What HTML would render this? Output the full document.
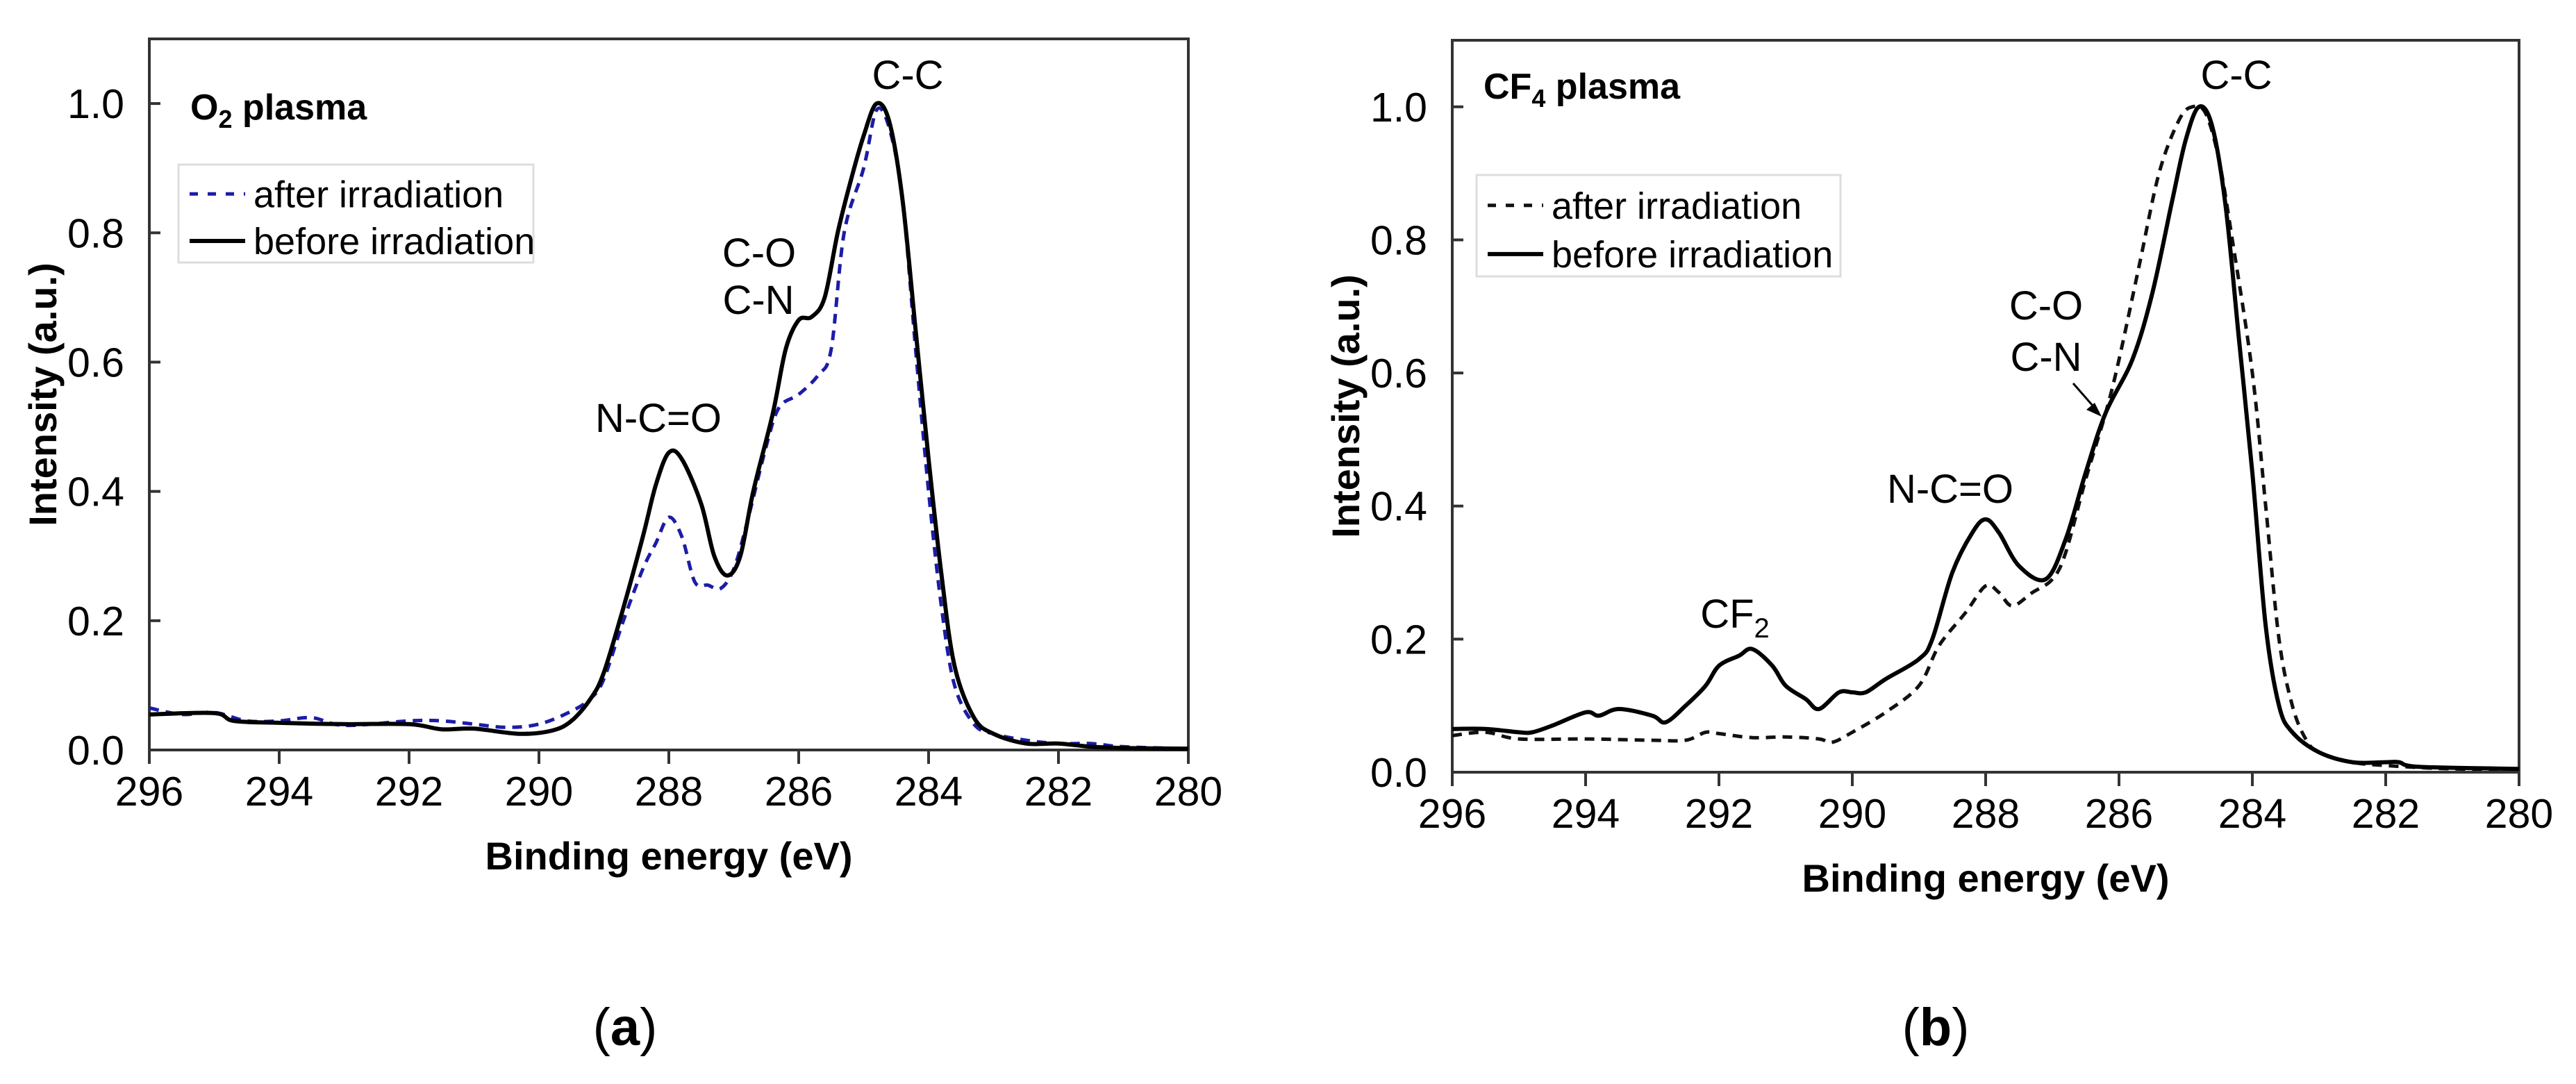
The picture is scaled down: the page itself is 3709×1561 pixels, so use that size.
<!DOCTYPE html>
<html><head><meta charset="utf-8"><style>
html,body{margin:0;padding:0;background:#fff;}
svg text{font-family:"Liberation Sans",Arial,sans-serif;}
</style></head><body>
<svg id="fig" width="3709" height="1556" viewBox="0 0 3709 1556" xmlns="http://www.w3.org/2000/svg">
<rect width="3709" height="1556" fill="#fff"/>
</svg>
<script>
const xTicks = [296,294,292,290,288,286,284,282,280];
const yTicks = [0.0,0.2,0.4,0.6,0.8,1.0];
const aBeforeE = [296,295,294.7,294,293,292,291.5,291,290.3,289.8,289.5,289.2,289,288.7,288.4,288.2,288,287.8,287.5,287.3,287.1,286.9,286.7,286.4,286.2,286,285.8,285.6,285.4,285.2,285,284.8,284.6,284.4,284.2,284,283.8,283.6,283.3,283,282.5,282,281.5,281,280];
const aBeforeV = [0.055,0.057,0.045,0.042,0.040,0.040,0.032,0.033,0.025,0.03,0.045,0.08,0.12,0.22,0.33,0.41,0.46,0.45,0.38,0.30,0.27,0.30,0.40,0.52,0.62,0.665,0.67,0.70,0.80,0.88,0.95,1.0,0.97,0.85,0.65,0.45,0.27,0.13,0.05,0.025,0.01,0.01,0.005,0.003,0.002];
const aAfterE = [296,295.5,295,294.5,294,293.5,293,292,291.5,291,290.5,290,289.5,289.2,289,288.7,288.4,288.2,288,287.8,287.6,287.4,287.2,287,286.8,286.5,286.3,286,285.7,285.5,285.3,285,284.8,284.6,284.4,284.2,284,283.8,283.6,283.3,283,282.5,282,281.5,281,280];
const aAfterV = [0.065,0.055,0.058,0.045,0.045,0.05,0.038,0.045,0.045,0.04,0.035,0.04,0.06,0.08,0.11,0.2,0.28,0.32,0.36,0.33,0.26,0.255,0.25,0.28,0.35,0.47,0.53,0.55,0.58,0.62,0.8,0.9,0.99,0.96,0.85,0.62,0.40,0.22,0.1,0.04,0.025,0.015,0.01,0.01,0.005,0.002];
const bBeforeE = [296,295.5,295,294.8,294.5,294,293.8,293.5,293,292.8,292.5,292.2,292,291.7,291.5,291.2,291,290.7,290.5,290.2,290,289.8,289.5,289,288.8,288.5,288.2,288,287.8,287.5,287.1,286.8,286.5,286.2,285.8,285.5,285.2,285,284.8,284.6,284.4,284.2,284,283.8,283.6,283.4,283,282.5,282,281.8,281.5,280];
const bBeforeV = [0.065,0.065,0.06,0.06,0.07,0.09,0.085,0.095,0.085,0.075,0.1,0.13,0.16,0.175,0.185,0.16,0.13,0.11,0.095,0.12,0.12,0.12,0.14,0.17,0.2,0.3,0.36,0.38,0.36,0.31,0.29,0.35,0.45,0.54,0.62,0.72,0.86,0.95,1.0,0.97,0.85,0.65,0.45,0.22,0.1,0.06,0.03,0.015,0.015,0.015,0.008,0.005];
const bAfterE = [296,295.5,295,294,293,292.5,292.2,292,291.5,291,290.5,290.3,290,289.5,289,288.7,288.3,288,287.8,287.6,287.3,287,286.8,286.5,286.2,286,285.7,285.4,285.1,284.9,284.7,284.5,284.3,284,283.8,283.6,283.4,283.2,283,282.5,282,281,280];
const bAfterV = [0.055,0.06,0.05,0.05,0.048,0.048,0.06,0.058,0.052,0.053,0.05,0.045,0.06,0.09,0.13,0.19,0.24,0.28,0.27,0.25,0.27,0.29,0.33,0.44,0.54,0.62,0.76,0.9,0.98,1.0,0.99,0.92,0.8,0.6,0.4,0.2,0.1,0.05,0.03,0.015,0.01,0.005,0.005];

const NS="http://www.w3.org/2000/svg";
const svg=document.getElementById('fig');
function mk(tag,attrs,parent){const e=document.createElementNS(NS,tag);for(const k in attrs)e.setAttribute(k,attrs[k]);(parent||svg).appendChild(e);return e;}
function txt(s,x,y,size,weight,anchor,parent){const t=mk('text',{x:x,y:y,'font-size':size,'font-weight':weight||'normal','text-anchor':anchor||'middle',fill:'#000'},parent);t.textContent=s;return t;}
function smoothPath(P){
  let d='M'+P[0][0].toFixed(1)+' '+P[0][1].toFixed(1);
  for(let i=0;i<P.length-1;i++){
    const p0=P[i-1]||P[i],p1=P[i],p2=P[i+1],p3=P[i+2]||P[i+1];
    const c1=[p1[0]+(p2[0]-p0[0])/6,p1[1]+(p2[1]-p0[1])/6];
    const c2=[p2[0]-(p3[0]-p1[0])/6,p2[1]-(p3[1]-p1[1])/6];
    d+=' C'+c1[0].toFixed(1)+' '+c1[1].toFixed(1)+' '+c2[0].toFixed(1)+' '+c2[1].toFixed(1)+' '+p2[0].toFixed(1)+' '+p2[1].toFixed(1);
  }
  return d;
}

function panel(p){
  const g=mk('g',{});
  
  
  const X=e=>p.L+(296-e)/16*(p.R-p.L);
  const Y=v=>p.B-v/1.1*(p.B-p.T);
  const fr=mk('rect',{x:p.L,y:p.T,width:p.R-p.L,height:p.B-p.T,fill:'none',stroke:'#333','stroke-width':4},g);
  
  
  xTicks.forEach(e=>{
    mk('line',{x1:X(e),x2:X(e),y1:p.B,y2:p.B+20,stroke:'#333','stroke-width':4},g);
    const t=txt(String(e),X(e),p.B+80,59,'normal','middle',g);
    
    
  });
  yTicks.forEach(v=>{
    mk('line',{x1:p.L,x2:p.L+16,y1:Y(v),y2:Y(v),stroke:'#333','stroke-width':4},g);
    const t=txt(v.toFixed(1),p.L-36,Y(v)+21,59,'normal','end',g);
    
    
  });
  const xt=txt('Binding energy (eV)',(p.L+p.R)/2,p.B+172,56,'bold','middle',g);
  
  
  const yc=p.B-0.55/1.1*(p.B-p.T);
  const yt=txt('Intensity (a.u.)',0,0,56,'bold','middle',g);
  yt.setAttribute('transform','translate('+(p.L-134)+','+yc+') rotate(-90)');
  
  
  function line(E,V,attrs,name){
    const d=smoothPath(E.map((e,i)=>[X(e),Y(V[i])]));
    const a=Object.assign({d:d,fill:'none','stroke-linejoin':'round'},attrs);
    const el=mk('path',a,g);
    
    
  }
  line(p.afterE,p.afterV,{stroke:p.afterColor,'stroke-width':5,'stroke-dasharray':'14 10'},'after-irradiation-line');
  line(p.beforeE,p.beforeV,{stroke:'#000','stroke-width':6},'before-irradiation-line');
  const tt=mk('text',{x:p.titleX,y:p.titleY,'font-size':52,'font-weight':'bold',fill:'#000'},g);
  tt.innerHTML=p.titleHTML;
  
  
  const lg=mk('g',{},g);
  
  
  mk('rect',{x:p.lg[0],y:p.lg[1],width:p.lg[2],height:p.lg[3],fill:'#fff',stroke:'#ddd','stroke-width':3},lg);
  const r1=p.lg[1]+p.lg[3]*0.3, r2=p.lg[1]+p.lg[3]*0.78;
  mk('line',{x1:p.lg[0]+16,x2:p.lg[0]+96,y1:r1,y2:r1,stroke:p.afterColor,'stroke-width':5,'stroke-dasharray':'12 14'},lg);
  mk('line',{x1:p.lg[0]+16,x2:p.lg[0]+96,y1:r2,y2:r2,stroke:'#000','stroke-width':6},lg);
  const e1=txt('after irradiation',p.lg[0]+108,r1+19,54,'normal','start',lg);
  
  
  const e2=txt('before irradiation',p.lg[0]+108,r2+19,54,'normal','start',lg);
  
  
  p.ann.forEach(a=>{
    const t=mk('text',{x:a[1],y:a[2],'font-size':58,'text-anchor':'middle',fill:'#000'},g);
    t.innerHTML=a[0];
    
    
  });
  const cap=mk('text',{x:p.capX,y:1505,'font-size':76,'text-anchor':'middle',fill:'#000','font-family':'Liberation Serif, serif'},g);
  cap.innerHTML='(<tspan font-weight="bold">'+p.cap+'</tspan>)';
  
  
  return g;
}
panel({id:'o2',L:215,R:1711,T:56,B:1080,afterE:aAfterE,afterV:aAfterV,beforeE:aBeforeE,beforeV:aBeforeV,afterColor:'#1c1ca8',
  titleX:274,titleY:172,titleHTML:'O<tspan font-size="36" dy="12">2</tspan><tspan dy="-12"> plasma</tspan>',
  lg:[257,237,511,141],
  ann:[['C-C',1307,128],['C-O',1093,384],['C-N',1092,452],['N-C=O',948,622]],capX:900,cap:'a'});
panel({id:'cf4',L:2091,R:3627,T:58,B:1112,afterE:bAfterE,afterV:bAfterV,beforeE:bBeforeE,beforeV:bBeforeV,afterColor:'#111',
  titleX:2136,titleY:142,titleHTML:'CF<tspan font-size="36" dy="12">4</tspan><tspan dy="-12"> plasma</tspan>',
  lg:[2126,252,524,146],
  ann:[['C-C',3220,128],['C-O',2946,460],['C-N',2946,534],['N-C=O',2808,724],['CF<tspan font-size="40" dy="14">2</tspan>',2498,904]],capX:2787,cap:'b'});
const ar=mk('path',{d:'M2985 552 L3020 592',stroke:'#000','stroke-width':3,fill:'none'});


const ah=mk('path',{d:'M3026 600 L3004 590 L3016 580 Z',fill:'#000'});


</script>
</body></html>
